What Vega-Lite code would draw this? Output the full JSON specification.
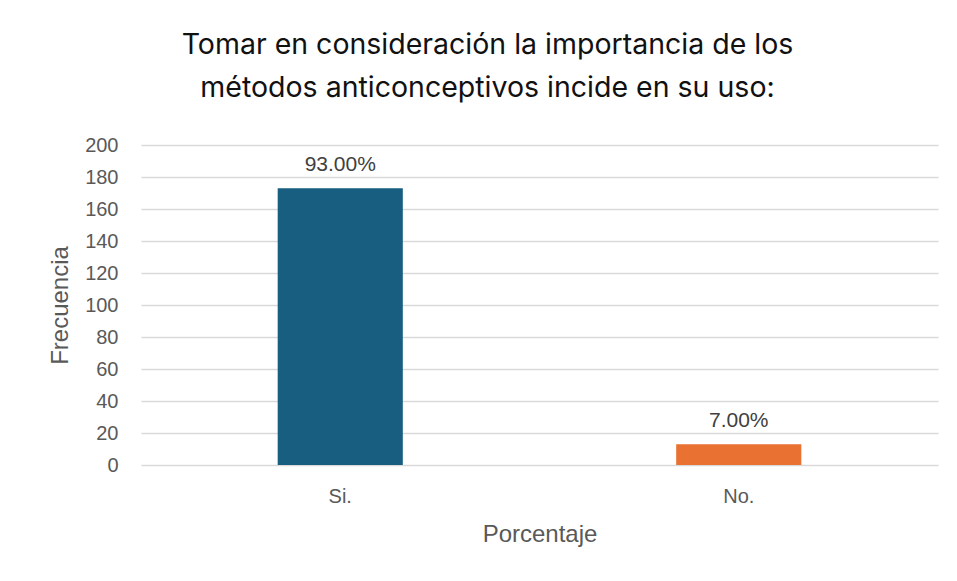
{
  "$schema": "https://vega.github.io/schema/vega-lite/v6.json",
  "width": 797,
  "height": 320,
  "autosize": {"type": "none"},
  "padding": {"left": 141, "top": 145, "right": 19, "bottom": 116},
  "background": "white",
  "title": {
    "text": ["Tomar en consideración la importancia de los", "métodos anticonceptivos incide en su uso:"],
    "font": "Inter",
    "fontSize": 28.5,
    "fontWeight": "normal",
    "color": "#111111",
    "lineHeight": 43,
    "anchor": "middle",
    "frame": "group",
    "dx": -52,
    "offset": 33
  },
  "data": {
    "values": [
      {"respuesta": "Si.", "frecuencia": 173, "etiqueta": "93.00%"},
      {"respuesta": "No.", "frecuencia": 13, "etiqueta": "7.00%"}
    ]
  },
  "encoding": {
    "x": {
      "field": "respuesta",
      "type": "nominal",
      "sort": ["Si.", "No."],
      "scale": {"paddingInner": 0.686, "paddingOuter": 0.343},
      "axis": {
        "title": "Porcentaje",
        "labelAngle": 0,
        "labelFont": "Liberation Sans",
        "labelFontSize": 20,
        "labelColor": "#595959",
        "labelPadding": 21,
        "ticks": false,
        "tickSize": 0,
        "domain": false,
        "titleFont": "Liberation Sans",
        "titleFontSize": 24,
        "titleFontWeight": "normal",
        "titleColor": "#595959",
        "titlePadding": 16
      }
    },
    "y": {
      "field": "frecuencia",
      "type": "quantitative",
      "scale": {"domain": [0, 200], "nice": false},
      "axis": {
        "title": "Frecuencia",
        "values": [0, 20, 40, 60, 80, 100, 120, 140, 160, 180, 200],
        "labelFont": "Liberation Sans",
        "labelFontSize": 20,
        "labelColor": "#595959",
        "labelPadding": 23,
        "ticks": false,
        "tickSize": 0,
        "domain": false,
        "grid": true,
        "gridColor": "#d9d9d9",
        "gridWidth": 1.5,
        "titleFont": "Liberation Sans",
        "titleFontSize": 24,
        "titleFontWeight": "normal",
        "titleColor": "#595959",
        "titlePadding": 12
      }
    }
  },
  "layer": [
    {
      "mark": {"type": "bar"},
      "encoding": {
        "color": {
          "field": "respuesta",
          "type": "nominal",
          "scale": {"domain": ["Si.", "No."], "range": ["#175e80", "#e97132"]},
          "legend": null
        }
      }
    },
    {
      "mark": {"type": "text", "baseline": "bottom", "dy": -13, "font": "Liberation Sans", "fontSize": 21, "color": "#404040"},
      "encoding": {"text": {"field": "etiqueta"}}
    }
  ],
  "config": {"view": {"stroke": null}}
}
